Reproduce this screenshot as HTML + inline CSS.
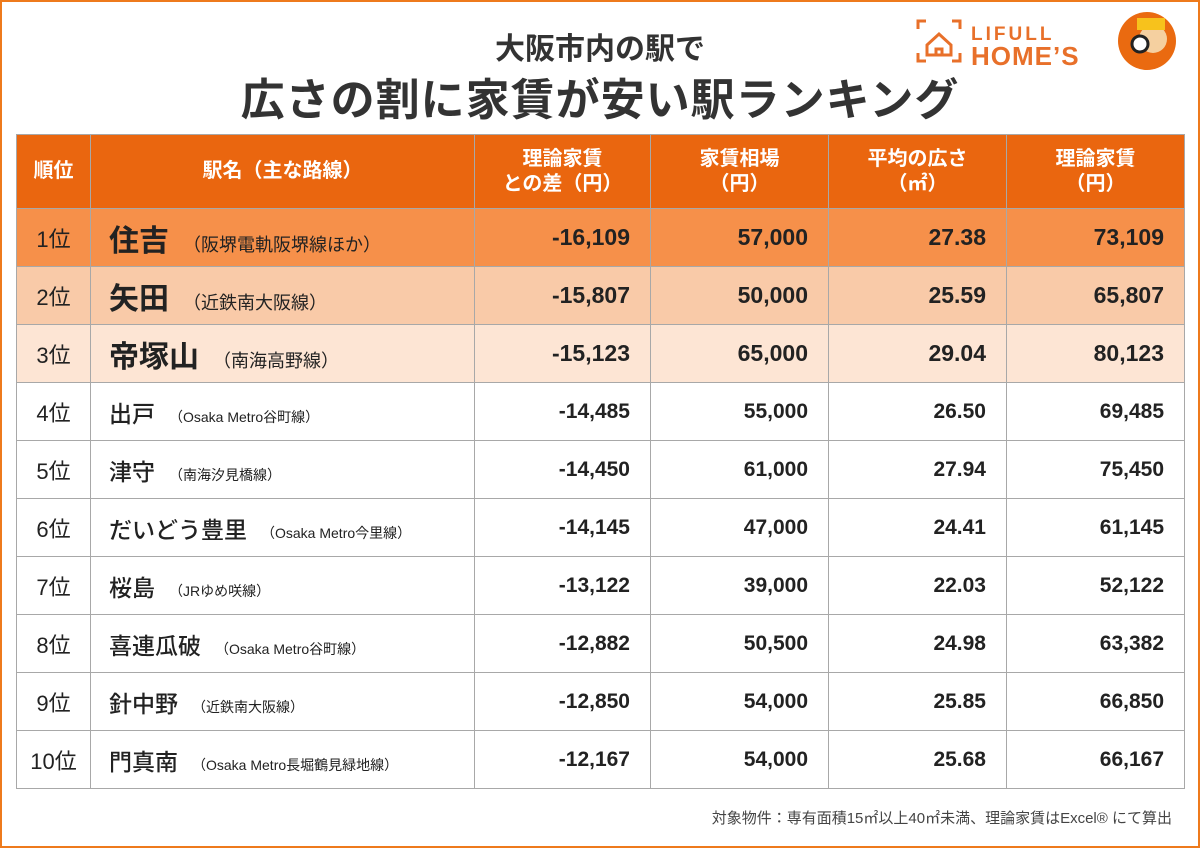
<!DOCTYPE html>
<html><head><meta charset="utf-8"><style>
body{margin:0;width:1200px;height:848px;overflow:hidden;background:#fff;font-family:"Liberation Sans","Noto Sans CJK JP",sans-serif;}
.frame{position:absolute;left:0;top:0;width:1196px;height:844px;border:2px solid #ee7a1c;}
.t1{position:absolute;left:0;width:1200px;top:24px;text-align:center;font-size:30px;font-weight:bold;color:#333;}
.t2{position:absolute;left:0;width:1200px;top:64px;text-align:center;font-size:44px;font-weight:bold;color:#333;letter-spacing:1px;}
table{position:absolute;left:16px;top:134px;border-collapse:collapse;table-layout:fixed;width:1168px;}
td{border:1px solid #a8a8a8;color:#222;font-size:21px;font-weight:bold;padding:0;height:57px;box-sizing:border-box;}
th{background:#ea660f;color:#fff;font-size:20px;border:1px solid #a8a8a8;height:74px;box-sizing:border-box;font-weight:bold;line-height:25px;}
tr{height:58px;}
td.r{text-align:center;font-weight:normal;font-size:22px;}
td.n{text-align:right;padding-right:20px;}
td.s{padding-left:18px;font-size:23px;font-weight:500;}
td.s small{font-size:14px;font-weight:normal;margin-left:14px;}
tr.a td{background:#f6904a;} tr.b td{background:#f9caa8;} tr.c td{background:#fde5d4;}
tr.a td.s,tr.b td.s,tr.c td.s{font-size:30px;font-weight:bold;}
tr.a td.s small,tr.b td.s small,tr.c td.s small{font-size:18px;}
tr.a td.n,tr.b td.n,tr.c td.n{font-size:23px;}
.foot{position:absolute;right:28px;top:807px;font-size:15px;color:#444;}
</style></head><body>
<div class="frame"></div>
<div class="t1">大阪市内の駅で</div>
<div class="t2">広さの割に家賃が安い駅ランキング</div>
<svg style="position:absolute;left:915px;top:12px" width="280" height="62">
<g stroke="#e8702a" stroke-width="3" fill="none"><path d="M3 17V9h8M37 9h8v8M3 41v8h8M37 49h8v-8"/><path d="M12 33l12-11 12 11v10H12z"/><path d="M21 43v-6h6v6"/></g>
<text x="56" y="28" font-family="Liberation Sans" font-weight="bold" font-size="19" fill="#e8702a" letter-spacing="3">LIFULL</text>
<text x="56" y="53" font-family="Liberation Sans" font-weight="bold" font-size="26" fill="#e8702a" letter-spacing="1">HOME’S</text>
<circle cx="232" cy="29" r="29" fill="#ea6a10"/><circle cx="238" cy="27" r="14" fill="#f5d0a0"/><rect x="222" y="6" width="28" height="12" fill="#f7c21c"/><circle cx="225" cy="32" r="8" fill="#fff" stroke="#222" stroke-width="3"/>
</svg>
<table>
<colgroup><col style="width:74px"><col style="width:384px"><col style="width:176px"><col style="width:178px"><col style="width:178px"><col style="width:178px"></colgroup>
<tr style="height:74px"><th>順位</th><th>駅名（主な路線）</th><th>理論家賃<br>との差（円）</th><th>家賃相場<br>（円）</th><th>平均の広さ<br>（㎡）</th><th>理論家賃<br>（円）</th></tr>
<tr class="a"><td class="r">1位</td><td class="s">住吉<small>（阪堺電軌阪堺線ほか）</small></td><td class="n">-16,109</td><td class="n">57,000</td><td class="n">27.38</td><td class="n">73,109</td></tr>
<tr class="b"><td class="r">2位</td><td class="s">矢田<small>（近鉄南大阪線）</small></td><td class="n">-15,807</td><td class="n">50,000</td><td class="n">25.59</td><td class="n">65,807</td></tr>
<tr class="c"><td class="r">3位</td><td class="s">帝塚山<small>（南海高野線）</small></td><td class="n">-15,123</td><td class="n">65,000</td><td class="n">29.04</td><td class="n">80,123</td></tr>
<tr><td class="r">4位</td><td class="s">出戸<small>（Osaka Metro谷町線）</small></td><td class="n">-14,485</td><td class="n">55,000</td><td class="n">26.50</td><td class="n">69,485</td></tr>
<tr><td class="r">5位</td><td class="s">津守<small>（南海汐見橋線）</small></td><td class="n">-14,450</td><td class="n">61,000</td><td class="n">27.94</td><td class="n">75,450</td></tr>
<tr><td class="r">6位</td><td class="s">だいどう豊里<small>（Osaka Metro今里線）</small></td><td class="n">-14,145</td><td class="n">47,000</td><td class="n">24.41</td><td class="n">61,145</td></tr>
<tr><td class="r">7位</td><td class="s">桜島<small>（JRゆめ咲線）</small></td><td class="n">-13,122</td><td class="n">39,000</td><td class="n">22.03</td><td class="n">52,122</td></tr>
<tr><td class="r">8位</td><td class="s">喜連瓜破<small>（Osaka Metro谷町線）</small></td><td class="n">-12,882</td><td class="n">50,500</td><td class="n">24.98</td><td class="n">63,382</td></tr>
<tr><td class="r">9位</td><td class="s">針中野<small>（近鉄南大阪線）</small></td><td class="n">-12,850</td><td class="n">54,000</td><td class="n">25.85</td><td class="n">66,850</td></tr>
<tr><td class="r">10位</td><td class="s">門真南<small>（Osaka Metro長堀鶴見緑地線）</small></td><td class="n">-12,167</td><td class="n">54,000</td><td class="n">25.68</td><td class="n">66,167</td></tr>
</table>
<div class="foot">対象物件：専有面積15㎡以上40㎡未満、理論家賃はExcel® にて算出</div>
</body></html>
